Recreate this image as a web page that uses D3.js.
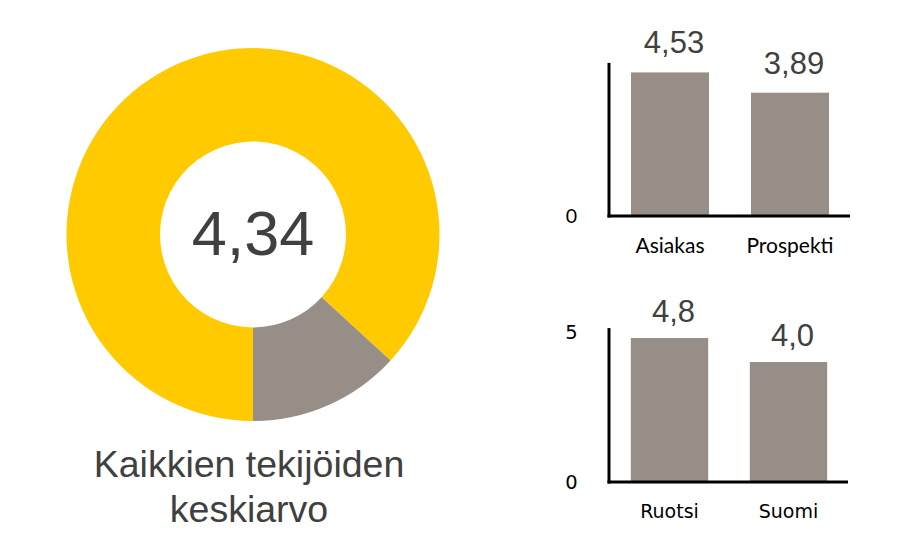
<!DOCTYPE html>
<html><head><meta charset="utf-8">
<script src="https://cdn.jsdelivr.net/npm/d3@7"></script>
<style>body{margin:0;background:#fff}svg{display:block}</style>
</head><body>
<svg id="c" width="914" height="560"></svg>
<script>
// ---- data ----
const donutLabels = ["Keskiarvo", "Jäljellä"];
const donutValues = [4.34, 0.66];
const donutCenterText = "4,34";
const donutTitle = ["Kaikkien tekijöiden", "keskiarvo"];

const chart1Categories = ["Asiakas", "Prospekti"];
const chart1Values = [4.53, 3.89];
const chart1Ticks = [0];

const chart2Categories = ["Ruotsi", "Suomi"];
const chart2Values = [4.8, 4.0];
const chart2Ticks = [0, 5];

// ---- drawing ----
const svg = d3.select("#c");
const YELLOW = "#FFCA00", GRAY = "#978F87", TEXT = "#404040";

// donut
const cx = 253, cy = 234.5, R = 186.5, r = 93;
const pie = d3.pie().sort(null).value(d => d).startAngle(Math.PI).endAngle(3 * Math.PI);
const arc = d3.arc().innerRadius(r).outerRadius(R);
const g = svg.append("g").attr("transform", `translate(${cx},${cy})`);
g.selectAll("path").data(pie(donutValues)).join("path")
  .attr("d", arc).attr("fill", (d, i) => i === 0 ? YELLOW : GRAY);
g.append("text").attr("text-anchor", "middle").attr("y", 20.5)
  .attr("font-family", "Liberation Sans, Arial").attr("font-size", 63).attr("fill", TEXT)
  .text(donutCenterText);
svg.append("g").selectAll("text").data(donutTitle).join("text")
  .attr("x", 249).attr("y", (d, i) => 477 + i * 45)
  .attr("text-anchor", "middle").attr("font-family", "Liberation Sans, Arial")
  .attr("font-size", 37.5).attr("fill", TEXT).text(d => d);

function barChart(cats, vals, ticks, opts) {
  const x = d3.scaleBand().domain(cats).range([opts.x0, opts.x1]).paddingInner(0.35).paddingOuter(0.175);
  const y = d3.scaleLinear().domain([0, 5]).range([opts.yBase, opts.yBase - opts.unit * 5]);
  const cg = svg.append("g");
  cg.selectAll("rect").data(vals).join("rect")
    .attr("x", (d, i) => x(cats[i])).attr("width", x.bandwidth())
    .attr("y", d => y(d)).attr("height", d => y(0) - y(d)).attr("fill", GRAY);
  // axes
  cg.append("line").attr("x1", opts.axisX).attr("x2", opts.axisX)
    .attr("y1", y(0) + 1.5).attr("y2", y(opts.axisTop)).attr("stroke", "#000").attr("stroke-width", 3);
  cg.append("line").attr("x1", opts.axisX - 1.5).attr("x2", opts.x1)
    .attr("y1", y(0)).attr("y2", y(0)).attr("stroke", "#000").attr("stroke-width", 3);
  cg.selectAll("text.tick").data(ticks).join("text").attr("class", "tick")
    .attr("x", 571.5).attr("y", d => y(d) + 7).attr("text-anchor", "middle")
    .attr("font-family", opts.font).attr("font-size", 19.5).attr("fill", "#000").text(d => d);
  cg.selectAll("text.cat").data(cats).join("text").attr("class", "cat")
    .attr("x", d => x(d) + x.bandwidth() / 2).attr("y", opts.labelY).attr("text-anchor", "middle")
    .attr("font-family", opts.font).attr("font-size", opts.labelSize).attr("fill", "#000").text(d => d);
  cg.selectAll("text.val").data(vals).join("text").attr("class", "val")
    .attr("x", (d, i) => x(cats[i]) + x.bandwidth() / 2 + 4).attr("y", d => y(d) - opts.valGap)
    .attr("text-anchor", "middle").attr("font-family", "Liberation Sans, Arial")
    .attr("font-size", 31).attr("fill", TEXT).text((d, i) => opts.labels[i]);
}

barChart(chart1Categories, chart1Values, chart1Ticks, {
  x0: 610, x1: 850, axisX: 609, yBase: 216, unit: 31.7, axisTop: 4.83,
  labelY: 253, labelSize: 21, font: "Lato", valGap: 19,
  labels: chart1Values.map(v => d3.format(".2f")(v).replace(".", ","))
});
barChart(chart2Categories, chart2Values, chart2Ticks, {
  x0: 610, x1: 848, axisX: 609, yBase: 482, unit: 30, axisTop: 5.13,
  labelY: 518, labelSize: 19, font: "DejaVu Sans", valGap: 16,
  labels: chart2Values.map(v => d3.format(".1f")(v).replace(".", ","))
});
</script>
</body></html>
